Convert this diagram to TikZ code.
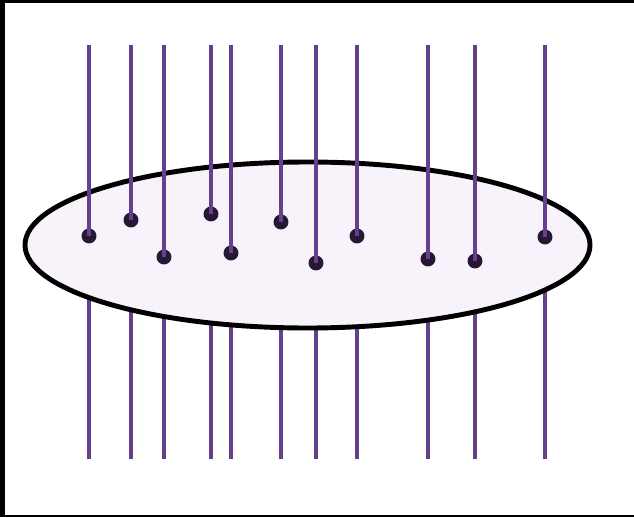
\documentclass[tikz,border=0pt]{standalone}
\usepackage{tikz}

\definecolor{colorhilo}{RGB}{104,62,142}
\definecolor{colorpunto}{RGB}{38,24,52}
\definecolor{colorrelleno}{RGB}{248,242,251}

\tikzset{
  hilo/.style={draw=colorhilo, line width=1.9pt},
  punto/.style={circle, fill=colorpunto, inner sep=0pt, minimum size=8.5pt},
  borde/.style={draw=black, line width=2.8pt, fill=colorrelleno}
}

\begin{document}
\begin{tikzpicture}[x=0.02cm, y=-0.02cm]
  % 0. Marco
  \useasboundingbox (0,0) rectangle (634,517);
  \fill[black] (0,0) rectangle (634,517);
  \fill[white] (5,3) rectangle (634,515);

  % 1. Parte inferior de los hilos (debajo de la elipse)
  \foreach \x in {89,131,164,211,231,281,316,357,428,475,545}
    \draw[hilo] (\x,245) -- (\x,459);

  % 2. La elipse
  \draw[borde] (307.5,245) ellipse (282.5 and 83);

  % 3. Parte superior de los hilos y puntos
  \foreach \x/\y [count=\i] in {89/236, 131/220, 164/257, 211/214, 231/253, 281/222,
                                316/263, 357/236, 428/259, 475/261, 545/237} {
    \coordinate (a\i) at (\x,45);
    \node[punto] (p\i) at (\x,\y) {};
    \draw[hilo] (a\i) -- (p\i.center);
  }
\end{tikzpicture}
\end{document}
